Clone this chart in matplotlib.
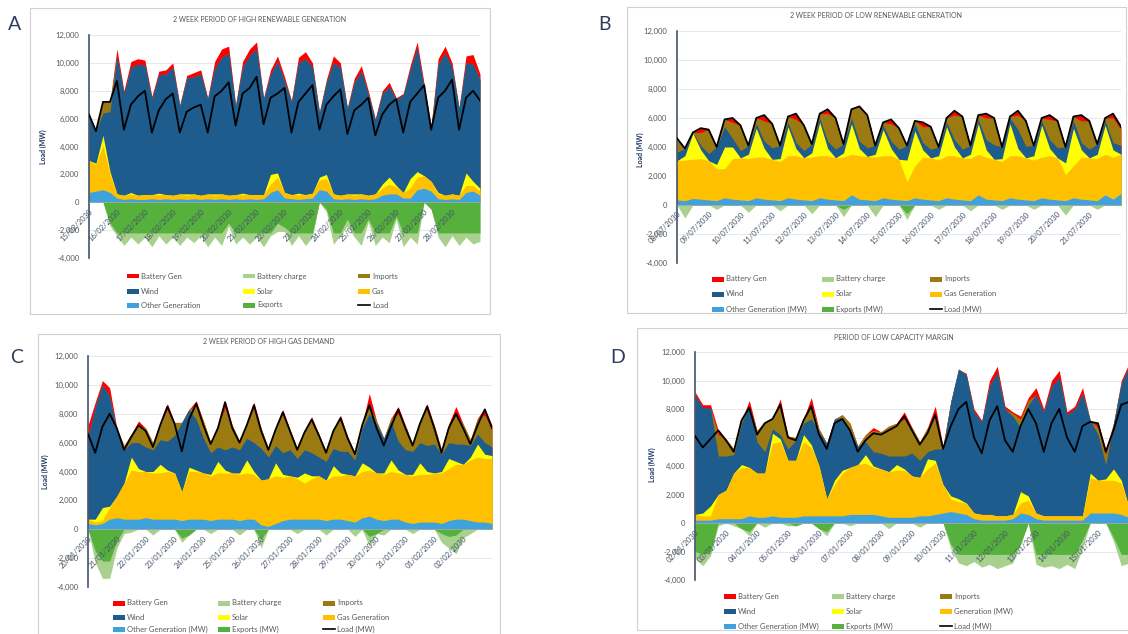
import numpy as np
import matplotlib
matplotlib.use("Agg")
import matplotlib.pyplot as plt
from matplotlib.patches import Rectangle
from matplotlib.lines import Line2D
from matplotlib.ticker import FuncFormatter

plt.rcParams["font.family"] = ["Lato", "DejaVu Sans"]

# -------------------------------------
#  Data: MW, one value every 6 hours over 14 days
# -------------------------------------

a_dates = ["15/02/2030", "16/02/2030", "17/02/2030", "18/02/2030", "19/02/2030",
           "20/02/2030", "21/02/2030", "22/02/2030", "23/02/2030", "24/02/2030",
           "25/02/2030", "26/02/2030", "27/02/2030", "28/02/2030"]
a_load = [
    6300, 5100, 7200, 7200, 8700, 5200, 7000, 7600,
    8000, 5000, 6600, 7400, 7800, 5000, 6500, 6800,
    7000, 5000, 7600, 8000, 8600, 5500, 7800, 8200,
    9000, 5600, 7500, 7800, 8200, 5000, 7200, 7800,
    8400, 5200, 7000, 7600, 8100, 4900, 6600, 7000,
    7500, 4800, 6300, 7000, 7400, 5000, 7200, 7800,
    8400, 5200, 7500, 8000, 8800, 5200, 7500, 8000,
    7300,
]
a_other = [
    700, 800, 900, 700, 300, 200, 250, 200,
    200, 250, 200, 250, 200, 250, 200, 250,
    200, 250, 200, 250, 200, 250, 200, 250,
    200, 250, 700, 900, 300, 250, 200, 250,
    300, 900, 800, 250, 200, 250, 200, 250,
    200, 250, 500, 600, 600, 300, 300, 900,
    1000, 800, 250, 200, 250, 200, 700, 800,
    500,
]
a_gas = [
    2300, 1900, 3200, 1300, 300, 300, 350, 300,
    350, 300, 350, 300, 300, 350, 300, 350,
    300, 350, 300, 350, 300, 300, 350, 300,
    350, 300, 600, 900, 400, 300, 350, 300,
    350, 700, 900, 350, 300, 350, 300, 350,
    300, 350, 500, 700, 500, 400, 700, 900,
    900, 700, 350, 300, 350, 300, 500, 400,
    300,
]
a_solar = [
    0, 100, 700, 200, 0, 0, 100, 0,
    0, 0, 100, 0, 0, 0, 100, 0,
    0, 0, 100, 0, 0, 0, 100, 0,
    0, 0, 700, 300, 0, 0, 100, 0,
    0, 200, 300, 0, 0, 0, 100, 0,
    0, 0, 300, 500, 100, 0, 700, 400,
    0, 0, 100, 0, 0, 0, 900, 300,
    200,
]
a_wind = [
    3300, 2300, 1600, 4300, 9900, 7300, 9000, 9400,
    9300, 6900, 8500, 8650, 9200, 6300, 8300, 8400,
    8700, 6800, 9000, 9800, 10200, 6350, 9050, 10000,
    10450, 6850, 7200, 8000, 8000, 6650, 9350, 9750,
    9050, 4600, 6600, 9400, 9200, 6100, 8000, 8800,
    7300, 5300, 6500, 6500, 6200, 7000, 7800, 8900,
    6300, 3700, 9200, 10200, 9100, 6200, 7900, 8400,
    7800,
]
a_imports = [
    0, 0, 800, 700, 0, 0, 0, 0,
    0, 0, 0, 0, 0, 0, 0, 0,
    0, 0, 0, 0, 0, 0, 0, 0,
    0, 0, 0, 0, 0, 0, 0, 0,
    0, 0, 0, 0, 0, 0, 0, 0,
    0, 0, 0, 0, 0, 0, 0, 0,
    0, 300, 0, 0, 0, 0, 0, 0,
    0,
]
a_battery = [
    0, 0, 0, 0, 500, 200, 400, 400,
    350, 150, 250, 300, 300, 100, 200, 300,
    300, 100, 500, 600, 500, 100, 400, 450,
    500, 100, 300, 400, 300, 100, 400, 500,
    300, 100, 200, 500, 300, 100, 300, 400,
    200, 100, 200, 300, 100, 100, 300, 400,
    300, 0, 400, 500, 300, 100, 500, 700,
    400,
]
a_exports = [
    0, 0, 0, -1500, -2200, -2200, -2200, -2200,
    -2200, -2200, -2200, -2200, -2200, -2200, -2200, -2200,
    -2200, -2200, -2200, -2200, -1500, -2200, -2200, -2200,
    -2200, -2200, -2200, -1500, -1800, -2200, -2200, -2200,
    -2200, 0, -500, -2200, -2200, -1200, -2200, -2200,
    -1200, -2200, -2200, -2200, -1000, -2200, -2200, -2200,
    0, -500, -2200, -2200, -2200, -2200, -2200, -2200,
    -2200,
]
a_charge = [
    0, 0, 0, -200, -200, -900, -300, -800,
    -300, -1000, -200, -800, -300, -900, -300, -700,
    -200, -1000, -300, -900, -200, -800, -300, -800,
    -300, -1000, -200, -600, -300, -900, -200, -900,
    -300, 0, -200, -800, -200, -500, -300, -900,
    -200, -900, -300, -700, -200, -1000, -300, -800,
    0, 0, -300, -1000, -200, -900, -300, -800,
    -600,
]

b_dates = ["08/07/2030", "09/07/2030", "10/07/2030", "11/07/2030", "12/07/2030",
           "13/07/2030", "14/07/2030", "15/07/2030", "16/07/2030", "17/07/2030",
           "18/07/2030", "19/07/2030", "20/07/2030", "21/07/2030"]
b_load = [
    4600, 3900, 5000, 5300, 5200, 4000, 5900, 6000,
    5500, 4100, 6000, 6200, 5600, 4100, 6100, 6300,
    5500, 4200, 6300, 6600, 6000, 4200, 6600, 6800,
    6200, 4100, 5700, 5900, 5300, 4100, 5800, 5700,
    5400, 4000, 6000, 6500, 6100, 4100, 6200, 6300,
    6000, 4000, 6100, 6500, 5800, 4100, 6000, 6200,
    5800, 4000, 6100, 6200, 5800, 4200, 6000, 6300,
    5400,
]
b_other = [
    350, 300, 450, 400, 350, 300, 500, 400,
    350, 300, 500, 400, 350, 300, 500, 400,
    350, 300, 500, 400, 350, 300, 700, 400,
    350, 300, 500, 400, 350, 300, 500, 400,
    350, 300, 500, 400, 350, 300, 700, 400,
    350, 300, 500, 400, 350, 300, 500, 400,
    350, 300, 500, 400, 350, 300, 700, 400,
    800,
]
b_gas = [
    2700, 2800, 2700, 2800, 2700, 2200, 2000, 2800,
    2900, 2900, 2800, 2900, 2800, 2700, 2900, 3000,
    2900, 3000, 2900, 3000, 2900, 3000, 2800, 3000,
    3000, 3000, 2900, 3000, 2800, 1300, 2200, 2900,
    2900, 2800, 2900, 3000, 2900, 2900, 2800, 2900,
    2800, 2700, 2900, 3000, 2900, 2800, 2800, 3000,
    2900, 1800, 2200, 2900, 2900, 2900, 2800, 2900,
    2700,
]
b_solar = [
    0, 300, 1800, 600, 0, 300, 1500, 800,
    0, 300, 2000, 600, 0, 200, 2000, 500,
    0, 300, 2300, 500, 0, 300, 2100, 500,
    0, 200, 1800, 500, 0, 1500, 2400, 500,
    0, 300, 2000, 600, 0, 300, 2100, 500,
    0, 200, 2200, 500, 0, 300, 2200, 500,
    0, 800, 2600, 500, 0, 300, 2000, 500,
    0,
]
b_wind = [
    600, 500, 50, 300, 500, 1200, 1400, 600,
    500, 600, 300, 500, 800, 900, 300, 400,
    500, 600, 300, 500, 600, 600, 400, 500,
    600, 600, 300, 500, 700, 1000, 500, 500,
    600, 600, 300, 500, 600, 600, 300, 700,
    1000, 800, 400, 1300, 800, 700, 300, 600,
    700, 1100, 500, 500, 600, 700, 300, 500,
    600,
]
b_imports = [
    950, 0, 0, 900, 1650, 0, 500, 1100,
    1750, 0, 400, 1400, 1650, 0, 400, 1600,
    1750, 0, 300, 1900, 2150, 0, 600, 2400,
    2250, 0, 200, 1200, 1450, 0, 200, 1100,
    1550, 0, 300, 1700, 2250, 0, 300, 1500,
    1850, 0, 100, 1000, 1750, 0, 200, 1400,
    1850, 0, 300, 1500, 1950, 0, 200, 1700,
    1100,
]
b_battery = [
    0, 0, 0, 300, 0, 0, 0, 300,
    0, 0, 0, 400, 0, 0, 0, 400,
    0, 0, 0, 300, 0, 0, 0, 0,
    0, 0, 0, 300, 0, 0, 0, 300,
    0, 0, 0, 300, 0, 0, 0, 300,
    0, 0, 0, 300, 0, 0, 0, 300,
    0, 0, 0, 400, 0, 0, 0, 300,
    200,
]
b_exports = [
    0, 0, 0, 0, 0, 0, 0, 0,
    0, 0, 0, 0, 0, 0, 0, 0,
    0, 0, 0, 0, 0, -300, 0, 0,
    0, 0, 0, 0, 0, -600, 0, 0,
    0, 0, 0, 0, 0, 0, 0, 0,
    0, 0, 0, 0, 0, 0, 0, 0,
    0, 0, 0, 0, 0, 0, 0, 0,
    0,
]
b_charge = [
    0, -900, 0, 0, 0, -300, 0, 0,
    0, -500, 0, 0, 0, -400, 0, 0,
    0, -600, 0, 0, 0, -500, 0, 0,
    0, -800, 0, 0, 0, -400, 0, 0,
    0, -300, 0, 0, 0, -400, 0, 0,
    0, -300, 0, 0, 0, -300, 0, 0,
    0, -700, 0, 0, 0, -300, 0, 0,
    0,
]

c_dates = ["20/01/2030", "21/01/2030", "22/01/2030", "23/01/2030", "24/01/2030",
           "25/01/2030", "26/01/2030", "27/01/2030", "28/01/2030", "29/01/2030",
           "30/01/2030", "31/01/2030", "01/02/2030", "02/02/2030"]
c_load = [
    6600, 5300, 7100, 8000, 7000, 5500, 6400, 7200,
    6800, 5700, 7200, 8500, 7300, 5400, 7600, 8700,
    7200, 5900, 7000, 8800, 7000, 6000, 7200, 8600,
    6800, 5500, 6900, 8100, 6800, 5500, 6700, 7600,
    6500, 5300, 6800, 7700, 6300, 5200, 7200, 8600,
    7000, 5800, 7100, 8300, 7000, 5800, 7300, 8500,
    7000, 5300, 7000, 8000, 7000, 5900, 7200, 8300,
    7000,
]
c_other = [
    400, 300, 400, 700, 800, 700, 700, 700,
    800, 700, 700, 700, 700, 600, 700, 700,
    700, 600, 700, 700, 700, 600, 700, 700,
    300, 200, 400, 600, 700, 700, 700, 700,
    700, 600, 700, 700, 600, 500, 800, 900,
    700, 600, 700, 700, 500, 400, 500, 500,
    500, 400, 600, 700, 700, 600, 500, 500,
    400,
]
c_gas = [
    300, 200, 200, 800, 1500, 2500, 3400, 3300,
    3200, 3200, 3200, 3300, 3200, 2000, 3300, 3300,
    3200, 3100, 3200, 3200, 3200, 3200, 3200, 3100,
    3100, 3300, 3300, 3000, 3000, 2800, 2500, 2800,
    3000, 2800, 3000, 3000, 3200, 3200, 3200, 3200,
    3200, 3200, 3300, 3200, 3300, 3300, 3300, 3300,
    3400, 3500, 3600, 3800, 3800, 4200, 4500, 4400,
    4500,
]
c_solar = [
    0, 200, 900, 100, 0, 0, 900, 200,
    0, 100, 600, 100, 0, 0, 300, 100,
    0, 100, 800, 200, 0, 100, 900, 200,
    0, 0, 900, 200, 0, 100, 700, 200,
    0, 0, 700, 200, 0, 0, 600, 200,
    0, 100, 800, 200, 0, 100, 800, 200,
    0, 100, 700, 200, 0, 200, 900, 300,
    200,
]
c_wind = [
    5600, 7800, 8500, 7600, 4500, 2300, 1000, 1800,
    1700, 1500, 1700, 2000, 2600, 4800, 4000, 3500,
    2400, 1500, 1000, 1400, 1800, 1600, 1500, 2000,
    2200, 1500, 1200, 1500, 1800, 1300, 1600, 1600,
    1300, 1300, 1200, 1500, 1600, 1100, 2400, 3700,
    3400, 2400, 2700, 2000, 1700, 1600, 1400, 1800,
    2000, 1200, 1100, 1200, 1400, 800, 700, 800,
    600,
]
c_imports = [
    0, 0, 0, 0, 0, 300, 600, 1200,
    1300, 500, 1100, 2200, 900, 0, 0, 1000,
    1200, 700, 1500, 2900, 1500, 600, 1000, 2400,
    1400, 600, 1200, 2700, 1400, 700, 1300, 2300,
    1600, 700, 1300, 2300, 1000, 500, 300, 600,
    200, 0, 200, 1900, 1700, 500, 1500, 2500,
    1300, 300, 1300, 2000, 1400, 400, 1100, 1900,
    1300,
]
c_battery = [
    900, 300, 300, 600, 200, 0, 0, 300,
    0, 0, 0, 400, 0, 0, 0, 300,
    0, 0, 0, 500, 0, 0, 0, 400,
    0, 0, 0, 300, 0, 0, 0, 200,
    0, 0, 0, 200, 0, 0, 0, 800,
    0, 0, 0, 500, 0, 0, 0, 400,
    0, 0, 0, 600, 0, 0, 0, 500,
    200,
]
c_exports = [
    0, -1500, -2200, -2200, -800, 0, 0, 0,
    0, 0, 0, 0, 0, -600, -400, 0,
    0, 0, 0, 0, 0, 0, 0, 0,
    -700, 0, 0, 0, 0, 0, 0, 0,
    0, 0, 0, 0, 0, 0, 0, -500,
    -300, 0, 0, 0, 0, 0, 0, 0,
    0, -300, -500, -400, 0, 0, 0, 0,
    0,
]
c_charge = [
    0, -800, -1200, -1200, -500, -300, -200, 0,
    0, -400, 0, 0, 0, -300, 0, 0,
    0, -300, 0, 0, 0, -400, 0, 0,
    -600, 0, 0, 0, 0, -300, 0, 0,
    0, -400, 0, 0, 0, -500, 0, -700,
    0, -400, 0, 0, 0, -300, 0, 0,
    0, -600, -800, -1300, -600, -300, 0, 0,
    0,
]

d_dates = ["02/01/2030", "03/01/2030", "04/01/2030", "05/01/2030", "06/01/2030",
           "07/01/2030", "08/01/2030", "09/01/2030", "10/01/2030", "11/01/2030",
           "12/01/2030", "13/01/2030", "14/01/2030", "15/01/2030"]
d_load = [
    6100, 5300, 5900, 6500, 5800, 5000, 7200, 8100,
    6200, 7000, 7300, 8300, 6000, 5800, 7200, 8200,
    6200, 5200, 7000, 7300, 6500, 5000, 5800, 6300,
    6200, 6500, 6800, 7500, 6500, 5500, 6300, 7600,
    5200, 6800, 8000, 8500, 6000, 4900, 7200, 8200,
    5800, 5000, 6800, 8000, 7000, 5000, 7000, 8000,
    6000, 5000, 6800, 7100, 7000, 5000, 6500, 8300,
    8500,
]
d_other = [
    200, 200, 200, 300, 300, 300, 300, 500,
    400, 400, 500, 400, 400, 400, 500, 500,
    500, 500, 500, 500, 600, 600, 600, 600,
    500, 400, 400, 400, 400, 500, 500, 600,
    700, 800, 700, 600, 300, 200, 200, 200,
    200, 300, 700, 600, 300, 200, 200, 200,
    200, 200, 200, 700, 700, 700, 700, 600,
    400,
]
d_gas = [
    400, 300, 300, 1700, 2000, 3200, 3600, 3400,
    3100, 3100, 5100, 5300, 4000, 4000, 5200, 4800,
    3500, 1200, 2200, 3000, 3300, 3500, 3600, 3300,
    3300, 3200, 3300, 3300, 2900, 2700, 3300, 3600,
    2000, 900, 800, 800, 400, 400, 400, 300,
    300, 300, 700, 1000, 400, 300, 300, 300,
    300, 300, 300, 2500, 2300, 2300, 2300, 2200,
    700,
]
d_solar = [
    0, 200, 700, 0, 0, 0, 200, 0,
    0, 0, 700, 200, 0, 0, 500, 200,
    0, 0, 300, 200, 0, 0, 600, 100,
    0, 0, 400, 100, 0, 0, 700, 200,
    0, 200, 200, 0, 0, 0, 0, 0,
    0, 0, 800, 300, 0, 0, 0, 0,
    0, 0, 0, 300, 0, 100, 800, 200,
    0,
]
d_wind = [
    8400, 7400, 6900, 2700, 2400, 1300, 2900, 4300,
    2200, 1500, 300, 300, 800, 1400, 800, 1800,
    2400, 3900, 4300, 3700, 2600, 1300, 900, 1000,
    1100, 1100, 600, 900, 1600, 1200, 500, 800,
    2500, 6600, 9100, 9000, 7100, 6500, 9000, 10100,
    7500, 6900, 4500, 6400, 8300, 7300, 9100, 9700,
    7100, 7500, 8600, 3700, 3200, 1000, 3200, 6800,
    9900,
]
d_imports = [
    0, 0, 0, 1500, 1200, 400, 200, 0,
    800, 2100, 800, 2000, 900, 200, 300, 1000,
    200, 0, 0, 200, 500, 0, 500, 1500,
    1500, 2100, 2300, 2600, 1800, 1300, 1700, 2300,
    200, 0, 0, 0, 0, 0, 0, 0,
    0, 200, 600, 300, 0, 0, 0, 0,
    0, 0, 0, 0, 500, 700, 0, 0,
    0,
]
d_battery = [
    200, 200, 200, 300, 0, 0, 0, 400,
    0, 0, 0, 500, 0, 0, 0, 500,
    0, 0, 0, 0, 0, 0, 0, 200,
    0, 0, 0, 500, 0, 0, 0, 700,
    0, 0, 0, 100, 200, 100, 400, 400,
    200, 100, 200, 200, 500, 200, 400, 500,
    200, 200, 400, 0, 300, 400, 0, 200,
    200,
]
d_exports = [
    -2000, -2200, -2000, 0, 0, 0, -400, -600,
    0, 0, 0, 0, 0, -200, 0, 0,
    -400, -600, 0, 0, 0, 0, 0, 0,
    0, 0, 0, 0, 0, 0, 0, 0,
    0, -1500, -2200, -2200, -2200, -2200, -2200, -2200,
    -2200, -2200, -1500, 0, -2200, -2200, -2200, -2200,
    -2200, -2200, -1200, 0, 0, 0, -1000, -2200,
    -2200,
]
d_charge = [
    -500, -800, -300, -200, 0, -200, 0, -300,
    0, -300, 0, 0, -200, 0, 0, 0,
    0, -300, 0, 0, -200, 0, 0, 0,
    0, -400, 0, 0, 0, -300, 0, 0,
    0, -300, -600, -800, -500, -900, -700, -1000,
    -800, -600, 0, 0, -700, -900, -800, -1000,
    -700, -1000, -600, 0, 0, 0, -300, -800,
    -600,
]

# -------------------------------------
#  Style
# -------------------------------------

W, H = 1128, 634

C_OTHER = "#3FA2DC"
C_GAS = "#FFC000"
C_SOLAR = "#FFFF00"
C_WIND = "#1D5C8D"
C_IMPORTS = "#9C7A12"
C_BATTERY = "#FF0000"
C_EXPORTS = "#55B03C"
C_CHARGE = "#A9D18E"

TEXT_GREY = "#595959"
AXIS_BLUE = "#44546A"


def fx(px):
    return px / W


def fy(py):
    return 1 - py / H


def add_box(fig, x0, y0, x1, y1):
    fig.add_artist(Rectangle((fx(x0), fy(y1)), (x1 - x0) / W, (y1 - y0) / H,
                             transform=fig.transFigure, fill=False,
                             edgecolor="#D0D0D0", lw=0.8))


# -------------------------------------
#  One panel
# -------------------------------------

def draw_panel(fig, p):
    x0, y0, x1, y1 = p["axes"]
    ax = fig.add_axes([fx(x0), fy(y1), (x1 - x0) / W, (y1 - y0) / H])

    # spine first: moving it resets the tick objects
    for s in ("top", "right"):
        ax.spines[s].set_visible(False)
    ax.spines["bottom"].set_position(("data", 0))
    ax.spines["bottom"].set_color("#A6A6A6")
    ax.spines["bottom"].set_linewidth(0.5)
    ax.spines["left"].set_color(AXIS_BLUE)
    ax.spines["left"].set_linewidth(1.2)

    yticks = range(-4000, 12001, 2000)
    # gridlines sit under the areas, date labels stay above them
    for v in yticks:
        ax.axhline(v, color="#E4E4E4", lw=0.6, zorder=0.3)

    t = np.arange(len(p["load"])) * 6 / 24
    layers = [p["other"], p["gas"], p["solar"], p["wind"], p["imports"], p["battery"]]
    colors = [C_OTHER, C_GAS, C_SOLAR, C_WIND, C_IMPORTS, C_BATTERY]
    tops = np.cumsum(np.array(layers, dtype=float), axis=0)
    # paint from the top layer down so neighbouring areas leave no seams
    for top, c in reversed(list(zip(tops, colors))):
        ax.fill_between(t, 0, top, color=c, lw=0, zorder=1)

    exp = np.array(p["exports"], dtype=float)
    low = exp + np.array(p["charge"], dtype=float)
    ax.fill_between(t, 0, low, color=C_CHARGE, lw=0, zorder=1)
    ax.fill_between(t, 0, exp, color=C_EXPORTS, lw=0, zorder=1)

    ax.plot(t, p["load"], color="black", lw=1.3, zorder=2.6)

    ax.set_xlim(0, 14)
    ax.set_ylim(-4000, 12000)
    ax.set_yticks(yticks)
    ax.yaxis.set_major_formatter(FuncFormatter(lambda v, _: f"{v:,.0f}"))

    ax.tick_params(axis="y", length=0, pad=7, labelsize=5.5, labelcolor=TEXT_GREY)
    ax.tick_params(axis="x", length=0, pad=4, labelsize=5.5, labelcolor=AXIS_BLUE)
    ax.set_xticks(range(14))
    ax.set_xticklabels(p["dates"], rotation=45, ha="right", va="top",
                       rotation_mode="anchor")

    add_box(fig, *p["box"])
    lx, ly = p["letter_xy"]
    fig.text(fx(lx), fy(ly), p["letter"], ha="center", va="center",
             fontsize=14, color="#2F3D5A")
    tx, ty = p["title_xy"]
    fig.text(fx(tx), fy(ty), p["title"], ha="center", va="center",
             fontsize=5, color=TEXT_GREY)
    yx, yy = p["ylabel_xy"]
    fig.text(fx(yx), fy(yy), "Load (MW)", rotation=90, ha="center", va="center",
             fontsize=5, fontweight="bold", color="#203864")

    # legend, filled row by row like the Excel original
    items = [
        ("Battery Gen", C_BATTERY), ("Battery charge", C_CHARGE), ("Imports", C_IMPORTS),
        ("Wind", C_WIND), ("Solar", C_SOLAR), (p["gas_label"], C_GAS),
        (p["other_label"], C_OTHER), (p["exports_label"], C_EXPORTS), (p["load_label"], None),
    ]
    for i, (label, c) in enumerate(items):
        r, k = divmod(i, 3)
        x = p["legend_cols"][k]
        y = p["legend_rows"][r]
        if c is None:
            fig.add_artist(Line2D([fx(x), fx(x + 12)], [fy(y), fy(y)],
                                  transform=fig.transFigure, color="black", lw=1.2))
        else:
            fig.add_artist(Rectangle((fx(x), fy(y + 2.5)), 12 / W, 5 / H,
                                     transform=fig.transFigure, color=c, lw=0))
        fig.text(fx(x + 14), fy(y), label, ha="left", va="center",
                 fontsize=5.5, color=TEXT_GREY)


# -------------------------------------
#  Main
# -------------------------------------

def main():
    fig = plt.figure(figsize=(W / 100, H / 100), dpi=100)

    panels = [
        dict(letter="A", title="2 WEEK PERIOD OF HIGH RENEWABLE GENERATION", dates=a_dates,
             load=a_load, other=a_other, gas=a_gas, solar=a_solar, wind=a_wind,
             imports=a_imports, battery=a_battery, exports=a_exports, charge=a_charge,
             gas_label="Gas", other_label="Other Generation", exports_label="Exports",
             load_label="Load",
             axes=(89, 35, 480, 258), box=(30, 8, 490, 314), letter_xy=(15, 25),
             title_xy=(260, 19), ylabel_xy=(43, 147),
             legend_cols=(127, 243, 358), legend_rows=(276, 291, 305)),
        dict(letter="B", title="2 WEEK PERIOD OF LOW RENEWABLE GENERATION", dates=b_dates,
             load=b_load, other=b_other, gas=b_gas, solar=b_solar, wind=b_wind,
             imports=b_imports, battery=b_battery, exports=b_exports, charge=b_charge,
             gas_label="Gas Generation", other_label="Other Generation (MW)",
             exports_label="Exports (MW)", load_label="Load (MW)",
             axes=(677, 31, 1121, 263), box=(627, 7, 1126, 313), letter_xy=(605, 25),
             title_xy=(876, 15), ylabel_xy=(640, 150),
             legend_cols=(712, 822, 930), legend_rows=(279, 294, 309)),
        dict(letter="C", title="2 WEEK PERIOD OF HIGH GAS DEMAND", dates=c_dates,
             load=c_load, other=c_other, gas=c_gas, solar=c_solar, wind=c_wind,
             imports=c_imports, battery=c_battery, exports=c_exports, charge=c_charge,
             gas_label="Gas Generation", other_label="Other Generation (MW)",
             exports_label="Exports (MW)", load_label="Load (MW)",
             axes=(88, 356, 492, 587), box=(38, 334, 500, 650), letter_xy=(17, 357),
             title_xy=(269, 342), ylabel_xy=(45, 472),
             legend_cols=(113, 218, 323), legend_rows=(603, 617, 629)),
        dict(letter="D", title="PERIOD OF LOW CAPACITY MARGIN", dates=d_dates,
             load=d_load, other=d_other, gas=d_gas, solar=d_solar, wind=d_wind,
             imports=d_imports, battery=d_battery, exports=d_exports, charge=d_charge,
             gas_label="Generation (MW)", other_label="Other Generation (MW)",
             exports_label="Exports (MW)", load_label="Load (MW)",
             axes=(695, 352, 1129, 580), box=(637, 328, 1150, 630), letter_xy=(618, 357),
             title_xy=(894, 337), ylabel_xy=(652, 465),
             legend_cols=(724, 832, 940), legend_rows=(596, 611, 626)),
    ]
    for p in panels:
        draw_panel(fig, p)

    fig.savefig("out.png", dpi=100, facecolor="white")


if __name__ == "__main__":
    main()
